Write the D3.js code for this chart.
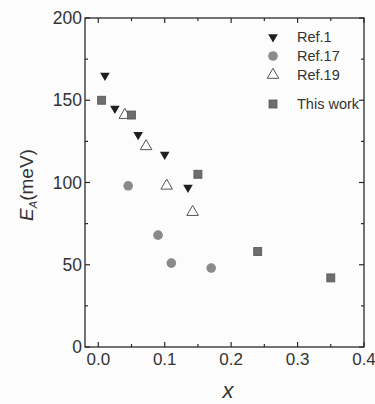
<!DOCTYPE html>
<html>
<head>
<meta charset="utf-8">
<script src="https://cdn.jsdelivr.net/npm/d3@7"></script>
<style>
  body { margin: 0; background: #fcfcfc; }
  svg { display: block; font-family: "Liberation Sans", Arial, sans-serif; }
</style>
</head>
<body>
<script>
// values
let ref1X = [0.01, 0.025, 0.06, 0.10, 0.135],
    ref1Y = [165, 145, 129, 117, 97];
let ref17X = [0.045, 0.09, 0.11, 0.17],
    ref17Y = [98, 68, 51, 48];
let ref19X = [0.04, 0.072, 0.103, 0.142],
    ref19Y = [141, 122, 98, 82];
let workX = [0.005, 0.05, 0.15, 0.24, 0.35],
    workY = [150, 141, 105, 58, 42];

let xTicks = [0.0, 0.1, 0.2, 0.3, 0.4],
    xMinor = [0.05, 0.15, 0.25, 0.35],
    yTicks = [0, 50, 100, 150, 200],
    yMinor = [25, 75, 125, 175];

let legendNames = ["Ref.1", "Ref.17", "Ref.19", "This work"];

let width = 375, height = 404;
let mLeft = 85, mRight = 364, mTop = 18, mBottom = 347;

let svg = d3.select("body").append("svg")
    .attr("width", width)
    .attr("height", height);

let x = d3.scaleLinear().domain([-0.02, 0.4]).range([mLeft, mRight]);
let y = d3.scaleLinear().domain([0, 200]).range([mBottom, mTop]);

let ink = "#2a2a2a";

// frame
svg.append("rect")
   .attr("x", mLeft).attr("y", mTop)
   .attr("width", mRight - mLeft).attr("height", mBottom - mTop)
   .attr("fill", "none").attr("stroke", ink).attr("stroke-width", 1.3);

// inward ticks on all four sides
let g = svg.append("g").attr("stroke", ink).attr("stroke-width", 1.2);
xTicks.concat(xMinor).forEach(function(t){
  let len = xTicks.includes(t) ? 5 : 3;
  g.append("line").attr("x1", x(t)).attr("x2", x(t)).attr("y1", mBottom).attr("y2", mBottom - len);
  g.append("line").attr("x1", x(t)).attr("x2", x(t)).attr("y1", mTop).attr("y2", mTop + len);
});
yTicks.concat(yMinor).forEach(function(t){
  let len = yTicks.includes(t) ? 5 : 3;
  g.append("line").attr("x1", mLeft).attr("x2", mLeft + len).attr("y1", y(t)).attr("y2", y(t));
  g.append("line").attr("x1", mRight).attr("x2", mRight - len).attr("y1", y(t)).attr("y2", y(t));
});

// tick labels
svg.append("g").selectAll("text")
   .data(xTicks).enter().append("text")
   .attr("x", function(d){ return x(d); })
   .attr("y", 365)
   .attr("text-anchor", "middle")
   .attr("font-size", 17)
   .attr("fill", "#333")
   .text(function(d){ return d3.format(".1f")(d); });

svg.append("g").selectAll("text")
   .data(yTicks).enter().append("text")
   .attr("x", 82)
   .attr("y", function(d){ return y(d) + 6; })
   .attr("text-anchor", "end")
   .attr("font-size", 17.5)
   .attr("fill", "#333")
   .text(function(d){ return d; });

// axis titles
svg.append("text")
   .attr("x", 228).attr("y", 398)
   .attr("text-anchor", "middle")
   .attr("font-size", 22)
   .attr("font-style", "italic")
   .attr("fill", "#333")
   .text("x");

let yl = svg.append("text")
   .attr("transform", "translate(33,185) rotate(-90)")
   .attr("text-anchor", "middle")
   .attr("font-size", 19)
   .attr("fill", "#333");
yl.append("tspan").attr("font-style", "italic").text("E");
yl.append("tspan").attr("font-style", "italic").attr("font-size", 11).attr("dy", 4).text("A");
yl.append("tspan").attr("dy", -4).text("(meV)");

// markers
let downTri = d3.symbol().type(d3.symbolTriangle).size(40);
let upTri = d3.symbol().type(d3.symbolTriangle).size(58);

let pts = svg.append("g");

pts.selectAll(".r1").data(d3.zip(ref1X, ref1Y)).enter().append("path")
   .attr("class", "r1")
   .attr("d", downTri)
   .attr("transform", function(d){ return "translate(" + x(d[0]) + "," + y(d[1]) + ") rotate(180)"; })
   .attr("fill", "#1e1e1e");

pts.selectAll(".r17").data(d3.zip(ref17X, ref17Y)).enter().append("circle")
   .attr("class", "r17")
   .attr("cx", function(d){ return x(d[0]); })
   .attr("cy", function(d){ return y(d[1]); })
   .attr("r", 4.8)
   .attr("fill", "#8a8a8a");

pts.selectAll(".r19").data(d3.zip(ref19X, ref19Y)).enter().append("path")
   .attr("class", "r19")
   .attr("d", upTri)
   .attr("transform", function(d){ return "translate(" + x(d[0]) + "," + y(d[1]) + ")"; })
   .attr("fill", "none")
   .attr("stroke", "#555")
   .attr("stroke-width", 1);

pts.selectAll(".tw").data(d3.zip(workX, workY)).enter().append("rect")
   .attr("class", "tw")
   .attr("x", function(d){ return x(d[0]) - 4; })
   .attr("y", function(d){ return y(d[1]) - 4; })
   .attr("width", 8).attr("height", 8)
   .attr("fill", "#6e6e6e")
   .attr("stroke", "#555").attr("stroke-width", 0.8);

// legend
let legY = [37, 56, 75, 104];
let lg = svg.append("g");
lg.append("path").attr("d", downTri).attr("transform", "translate(273," + legY[0] + ") rotate(180)").attr("fill", "#1e1e1e");
lg.append("circle").attr("cx", 273).attr("cy", legY[1]).attr("r", 4.8).attr("fill", "#8a8a8a");
lg.append("path").attr("d", upTri).attr("transform", "translate(273," + legY[2] + ")").attr("fill", "none").attr("stroke", "#555");
lg.append("rect").attr("x", 269).attr("y", legY[3] - 4).attr("width", 8).attr("height", 8).attr("fill", "#6e6e6e").attr("stroke", "#555").attr("stroke-width", 0.8);

lg.selectAll("text").data(legendNames).enter().append("text")
  .attr("x", 297)
  .attr("y", function(d, i){ return legY[i] + 5; })
  .attr("font-size", 14.5)
  .attr("fill", "#333")
  .text(function(d){ return d; });
</script>
</body>
</html>
